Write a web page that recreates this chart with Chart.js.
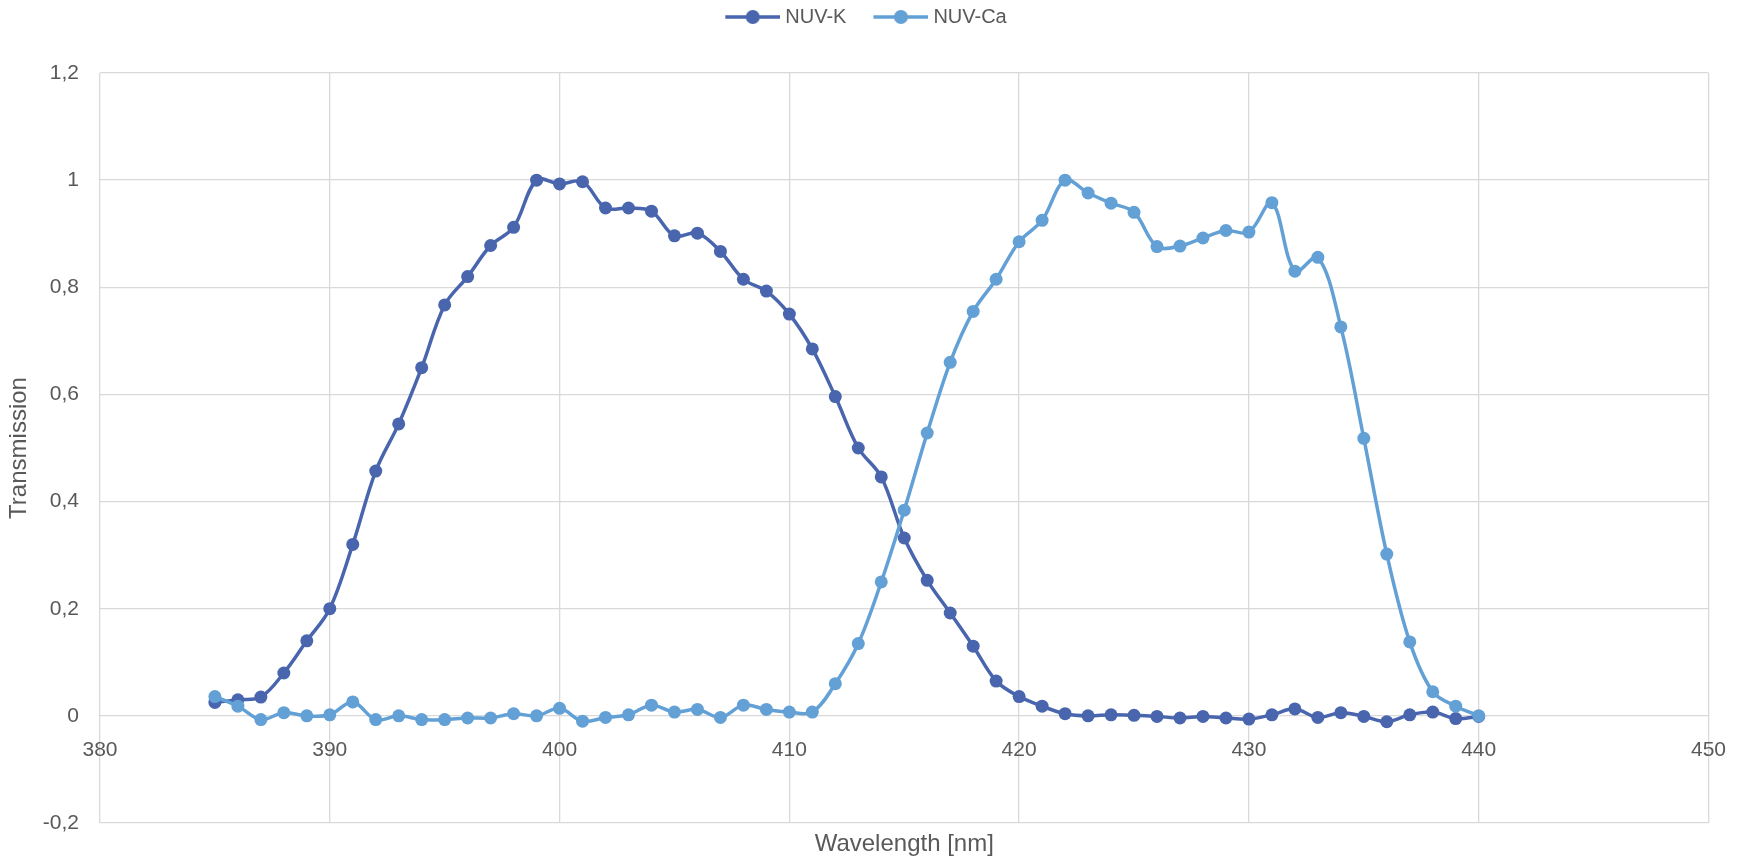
<!DOCTYPE html>
<html>
<head>
<meta charset="utf-8">
<script src="https://cdn.jsdelivr.net/npm/chart.js@4/dist/chart.umd.min.js"></script>
<style>
html,body{margin:0;padding:0;background:#fff;}
#wrap{width:1748px;height:862px;}
</style>
</head>
<body>
<div id="wrap"><canvas id="chart"></canvas></div>
<script>
// === Data ===
const wavelengths = [385,386,387,388,389,390,391,392,393,394,395,396,397,398,399,400,
  401,402,403,404,405,406,407,408,409,410,411,412,413,414,415,416,417,418,419,420,
  421,422,423,424,425,426,427,428,429,430,431,432,433,434,435,436,437,438,439,440];

const nuvK = [0.025,0.03,0.035,0.08,0.14,0.20,0.32,0.457,0.545,0.65,0.767,0.82,0.878,0.912,1.0,0.993,
  0.997,0.948,0.948,0.942,0.896,0.901,0.867,0.815,0.793,0.75,0.685,0.596,0.50,0.446,0.332,0.253,0.192,0.13,0.065,0.036,
  0.018,0.004,0.0,0.002,0.001,-0.001,-0.004,-0.001,-0.004,-0.006,0.002,0.013,-0.003,0.006,-0.001,-0.011,0.002,0.007,-0.005,-0.001];

const nuvCa = [0.036,0.018,-0.007,0.006,0.0,0.002,0.026,-0.007,0.0,-0.007,-0.007,-0.004,-0.004,0.004,0.0,0.014,
  -0.01,-0.003,0.002,0.02,0.007,0.012,-0.003,0.02,0.012,0.007,0.007,0.06,0.135,0.25,0.384,0.528,0.66,0.755,0.815,0.885,
  0.925,1.0,0.976,0.957,0.94,0.876,0.877,0.892,0.906,0.903,0.958,0.83,0.856,0.726,0.518,0.302,0.138,0.045,0.018,0.0];

const seriesNames = ["NUV-K","NUV-Ca"];
const seriesColors = ["#4865ad","#62a0d5"];

const xMin = 380, xMax = 450, xStep = 10;
const yMin = -0.2, yMax = 1.2, yStep = 0.2;

// === Helpers ===
const gridColor = "#d9d9d9", textColor = "#595959";
Chart.defaults.font.family = "'Liberation Sans', Arial, sans-serif";
Chart.defaults.font.size = 21;
Chart.defaults.color = textColor;

function pts(vals){ return wavelengths.map((w,i)=>({x:w, y:vals[i]})); }

// line + marker icon for the legend (Excel style)
function legendIcon(color){
  const c=document.createElement("canvas");
  c.width=80; c.height=16;
  const g=c.getContext("2d");
  g.strokeStyle=color; g.lineWidth=3.5;
  g.beginPath(); g.moveTo(25,8); g.lineTo(80,8); g.stroke();
  g.fillStyle=color;
  g.beginPath(); g.arc(52.5,8,7,0,Math.PI*2); g.fill();
  return c;
}

function fmtComma(v){
  const r=Math.round(v*10)/10;
  return String(r).replace(".",",");
}

function series(i,vals,order){
  const col=seriesColors[i];
  return {label:seriesNames[i], data:pts(vals), borderColor:col, backgroundColor:col,
    pointBackgroundColor:col, borderWidth:3.5, pointRadius:6.5, pointBorderWidth:0,
    tension:0.35, order:order, xAxisID:"x", yAxisID:"y"};
}

// === Chart ===
const ctx=document.getElementById("chart").getContext("2d");
new Chart(ctx,{
  type:"line",
  data:{ datasets:[ series(0,nuvK,1), series(1,nuvCa,0) ] },
  options:{
    responsive:true, maintainAspectRatio:false, animation:false,
    layout:{padding:{left:0,right:36,top:0,bottom:0}},
    plugins:{
      tooltip:{enabled:false},
      legend:{
        position:"top",
        labels:{
          usePointStyle:true, pointStyleWidth:70, padding:7, color:textColor,
          font:{size:20},
          sort:(a,b)=>a.datasetIndex-b.datasetIndex,
          generateLabels:(chart)=>{
            const items=Chart.defaults.plugins.legend.labels.generateLabels(chart);
            items.forEach(it=>{ it.pointStyle=legendIcon(seriesColors[it.datasetIndex]); });
            return items;
          }
        }
      }
    },
    scales:{
      pad:{ // spacer between legend and plot
        type:"linear", position:"top", display:true,
        grid:{display:false}, border:{display:false}, ticks:{display:false},
        afterFit:s=>{ s.height=36; }
      },
      x:{
        type:"linear", position:{y:0}, min:xMin, max:xMax,
        ticks:{stepSize:xStep, padding:22, autoSkip:false, maxRotation:0, color:textColor},
        grid:{color:gridColor, lineWidth:1.3, drawTicks:false},
        border:{display:false}
      },
      xTitle:{
        type:"linear", position:"bottom", min:xMin, max:xMax, display:true,
        ticks:{display:false}, grid:{display:false}, border:{display:false},
        title:{display:true, text:"Wavelength [nm]", color:textColor, font:{size:24}, padding:{top:0,bottom:3}},
        afterFit:s=>{ s.height=39; }
      },
      y:{
        type:"linear", position:"left", min:yMin, max:yMax,
        ticks:{stepSize:yStep, padding:21, color:textColor, callback:v=>fmtComma(v)},
        grid:{color:gridColor, lineWidth:1.3, drawTicks:false},
        border:{display:false},
        title:{display:true, text:"Transmission", color:textColor, font:{size:24}, padding:{top:5,bottom:0}},
        afterFit:s=>{ s.width=100; }
      }
    }
  }
});
</script>
</body>
</html>
